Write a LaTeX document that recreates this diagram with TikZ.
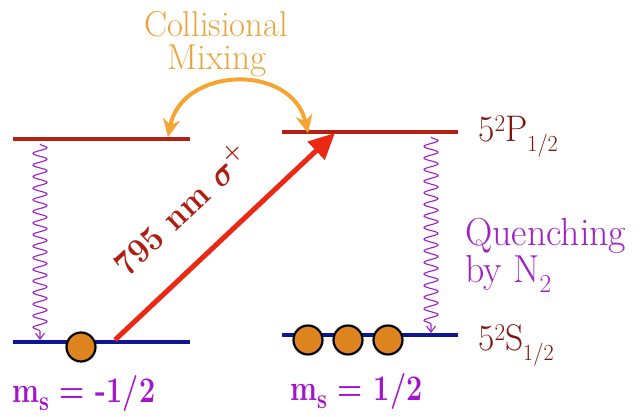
\documentclass[tikz,border=0pt]{standalone}
\usepackage{fix-cm}
\usepackage{amsmath}
\usepackage{graphicx}
\usetikzlibrary{arrows.meta,decorations.pathmorphing}
\newcommand{\fsz}[1]{\fontsize{#1}{#1}\selectfont}
\newcommand{\cond}[2]{\scalebox{#1}[1]{#2}}
\definecolor{lvred}{RGB}{178,34,20}
\definecolor{lvblue}{RGB}{12,22,150}
\definecolor{arred}{RGB}{235,40,20}
\definecolor{txred}{RGB}{175,30,18}
\definecolor{lbred}{RGB}{125,20,12}
\definecolor{qpurple}{RGB}{160,30,200}
\definecolor{mpurple}{RGB}{165,20,205}
\definecolor{arcorange}{RGB}{245,165,50}
\definecolor{txorange}{RGB}{232,165,60}
\definecolor{atomfill}{RGB}{222,132,30}
\begin{document}
\begin{tikzpicture}[x=1pt,y=-1pt,
  upper/.style={draw=lvred,line width=4.5pt},
  lower/.style={draw=lvblue,line width=4pt},
  wavy/.style={draw=qpurple,line width=1.1pt,
    decorate,decoration={snake,amplitude=7pt,segment length=11.6pt,post length=5pt},
    -{Straight Barb[length=6pt,width=9pt]}},
  atom/.style={circle,draw=black,line width=2.2pt,fill=atomfill,minimum size=29pt,inner sep=0pt},
  lbl/.style={text=lbred,inner sep=0pt,anchor=base west},
  qtext/.style={text=qpurple,inner sep=0pt,anchor=base west,font=\fsz{39}},
  mtext/.style={text=mpurple,inner sep=0pt,anchor=base west,font=\bfseries\fsz{36}}]
\useasboundingbox (0,0) rectangle (643,417);
\fill[white] (0,0) rectangle (643,417);
% level end points
\coordinate (PLa) at (13,139); \coordinate (PLb) at (190,139);
\coordinate (SLa) at (13,342); \coordinate (SLb) at (190,342);
\coordinate (PRa) at (282,132); \coordinate (PRb) at (458,132);
\coordinate (SRa) at (282,335); \coordinate (SRb) at (458,335);
\draw[upper] (PLa) -- (PLb);
\draw[upper] (PRa) -- (PRb);
\draw[lower] (SLa) -- (SLb);
\draw[lower] (SRa) -- (SRb);
% quenching waves
\coordinate (wLt) at (40,144); \coordinate (wLb) at (40,340);
\coordinate (wRt) at (431,137); \coordinate (wRb) at (431,333);
\draw[wavy] (wLt) -- (wLb);
\draw[wavy] (wRt) -- (wRb);
% atoms
\node[atom] (a0) at (81,347) {};
\node[atom] (a1) at (308,340) {};
\node[atom] (a2) at (348,340) {};
\node[atom] (a3) at (388,340) {};
% pump arrow
\coordinate (pumpS) at (115,340); \coordinate (pumpE) at (335,133);
\draw[arred,line width=5pt,-{Triangle[length=26pt,width=24pt]}] (pumpS) -- (pumpE);
\node[text=txred,inner sep=0pt,anchor=base,rotate=43.3,font=\bfseries\fsz{35}] (pumplbl) at (190,219) {\cond{0.92}{795 nm $\boldsymbol{\sigma}^{\boldsymbol{+}}$}};
% collisional mixing
\coordinate (cmL) at (168,137); \coordinate (cmR) at (308,133);
\draw[arcorange,line width=4pt,{Stealth[length=18pt,width=17pt]}-{Stealth[length=18pt,width=17pt]}]
  (cmL) .. controls (182,66) and (292,63) .. (cmR);
\node[text=txorange,inner sep=0pt,anchor=base,font=\fsz{36}] (coll) at (216,37) {\cond{0.96}{Collisional}};
\node[text=txorange,inner sep=0pt,anchor=base,font=\fsz{36}] (mix) at (217,70) {\cond{0.98}{Mixing}};
% level labels
\node[lbl,font=\fsz{37}] (Plbl) at (478,142) {\cond{0.96}{5\raisebox{10pt}{\fsz{24}2}P\raisebox{-10pt}{\fsz{23}1/2}}};
\node[lbl,font=\fsz{37}] (Slbl) at (478,350) {\cond{0.96}{5\raisebox{10pt}{\fsz{24}2}S\raisebox{-10pt}{\fsz{23}1/2}}};
\node[qtext] (q1) at (465,245) {\cond{0.97}{Quenching}};
\node[qtext] (q2) at (465,282) {\cond{0.97}{by N\raisebox{-10pt}{\fsz{26}2}}};
% spin labels
\node[mtext] (mL) at (12,402) {\cond{0.8}{m\raisebox{-8pt}{\fsz{28}s} = -1/2}};
\node[mtext] (mR) at (290,400) {\cond{0.8}{m\raisebox{-8pt}{\fsz{28}s} = 1/2}};
\end{tikzpicture}
\end{document}
